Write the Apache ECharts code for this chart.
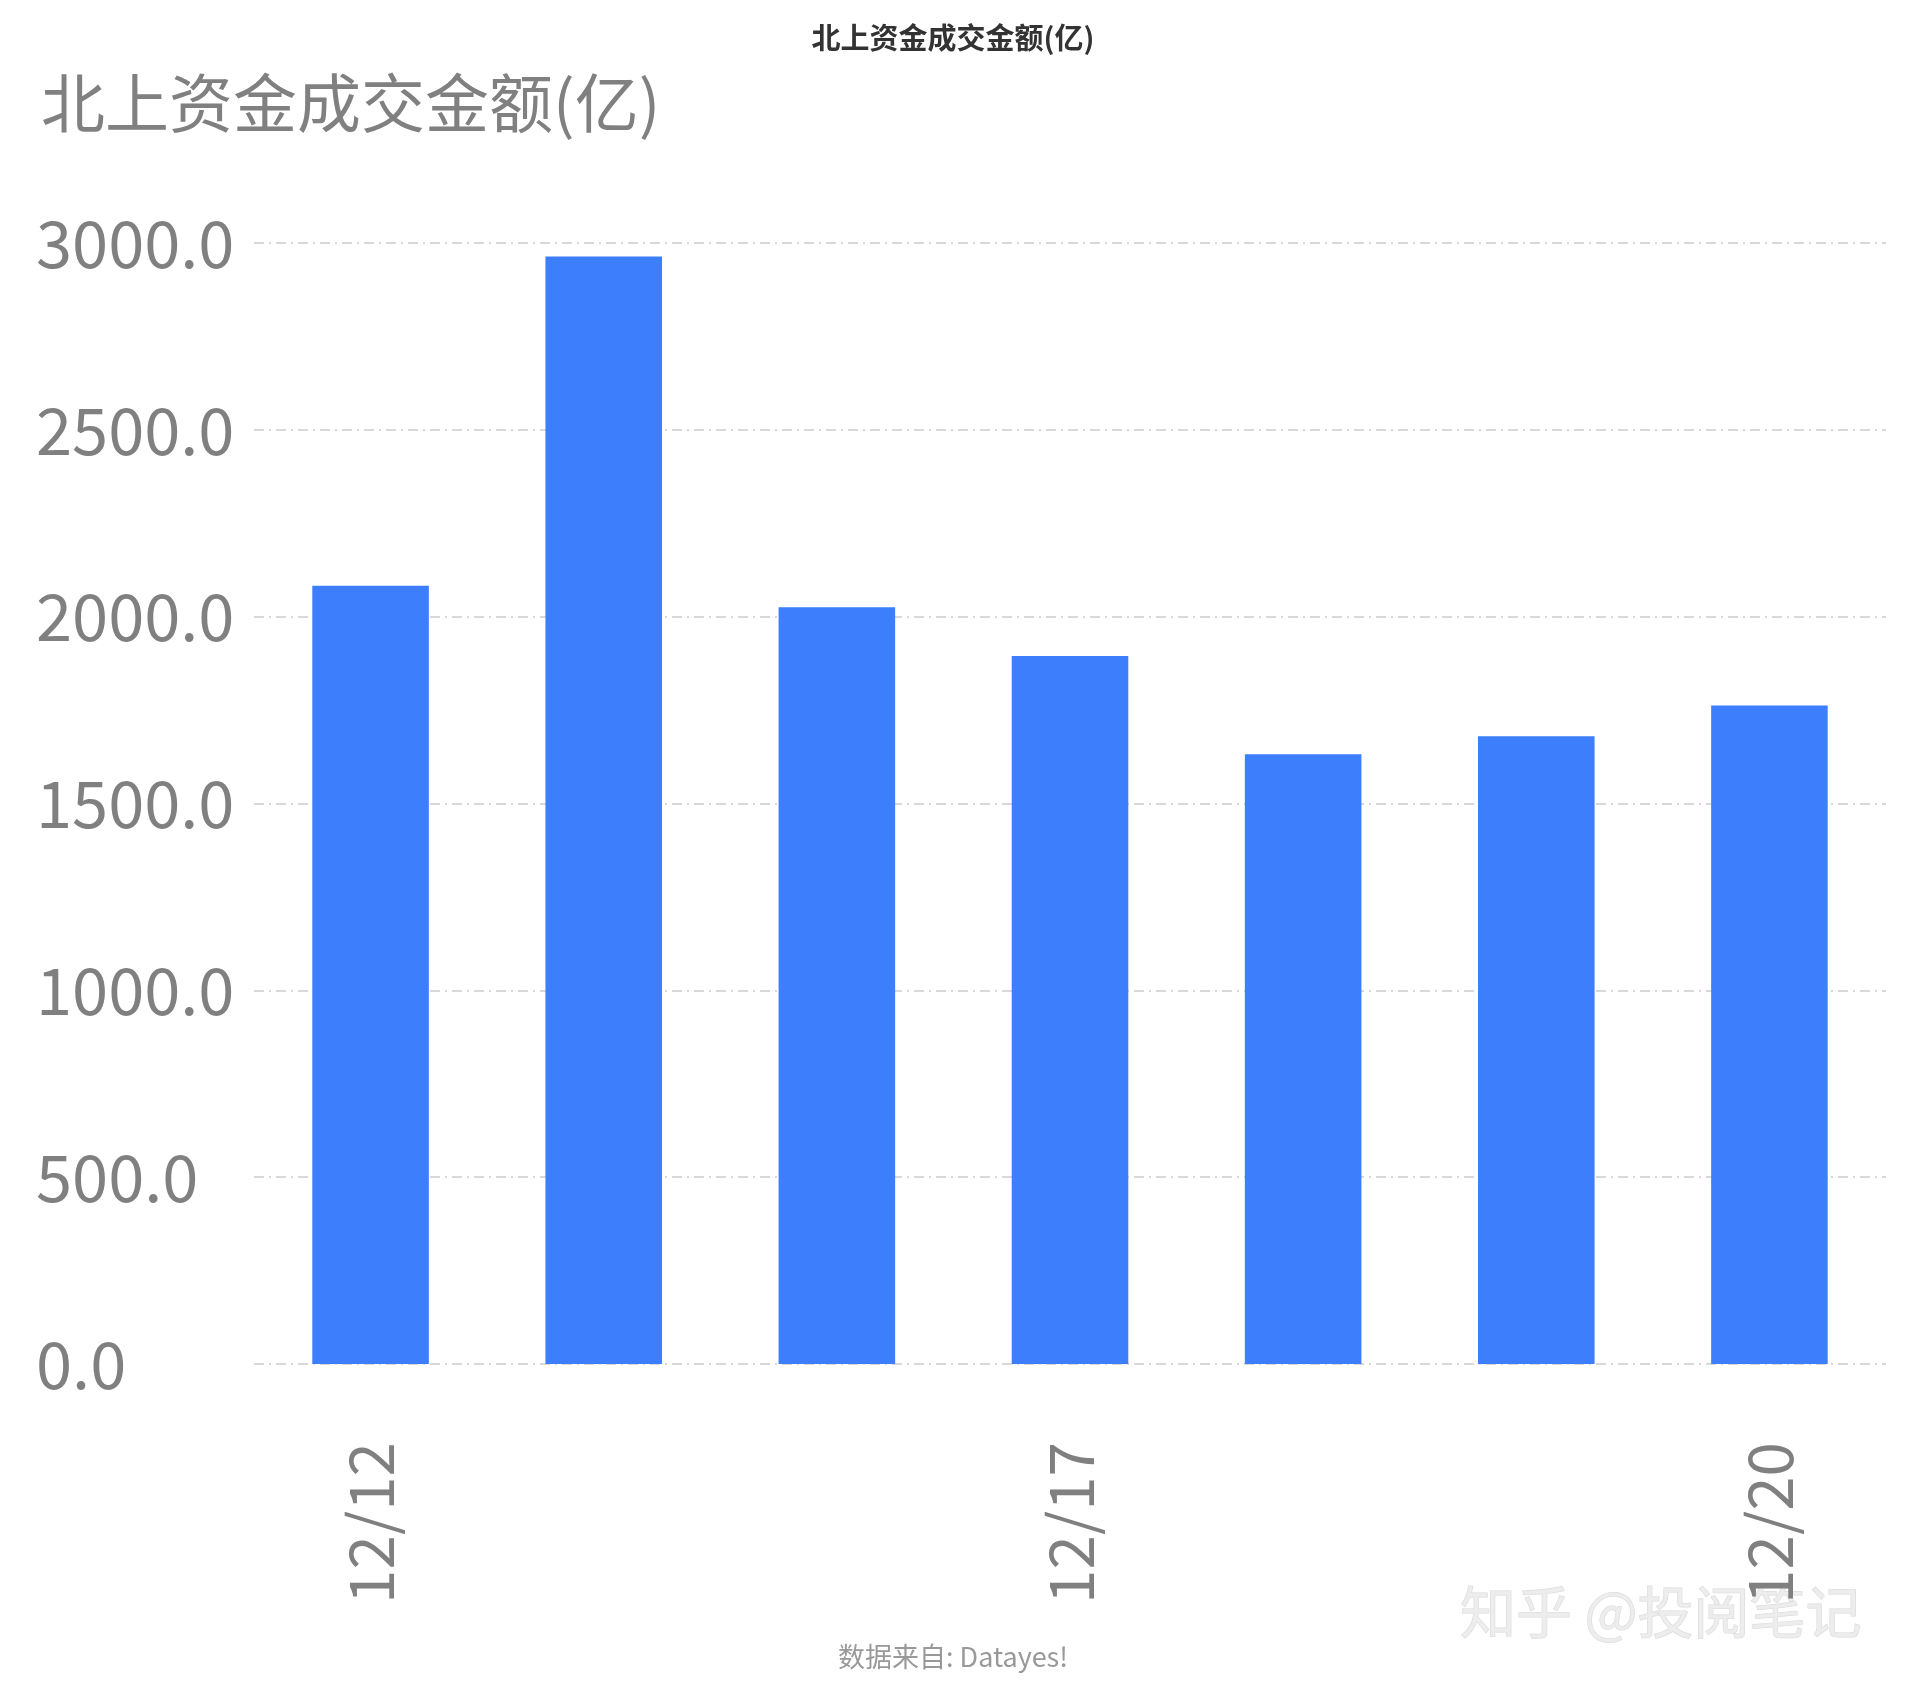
<!DOCTYPE html>
<html><head><meta charset="utf-8">
<script src="https://cdn.jsdelivr.net/npm/echarts@6/dist/echarts.min.js"></script>
<style>html,body{margin:0;padding:0;background:#fff}#c{width:1906px;height:1686px}</style>
</head><body><div id="c"></div>
<script>
const categories = ['12/12','12/13','12/16','12/17','12/18','12/19','12/20'];
const values = [2083, 2964, 2025, 1895, 1632, 1680, 1762];
const shownLabels = ['12/12','12/17','12/20'];
const chart = echarts.init(document.getElementById('c'));
const F = '"Noto Sans CJK SC","Noto Sans",sans-serif';
chart.setOption({
  animation:false,
  title:[
    {text:'北上资金成交金额(亿)',left:'center',top:18,textStyle:{fontFamily:F,fontSize:29,fontWeight:'bold',color:'#333'}},
    {text:'北上资金成交金额(亿)',left:36,top:66,textStyle:{fontFamily:F,fontSize:64,fontWeight:'normal',color:'#808080'}},
    {text:'数据来自: Datayes!',left:'center',top:1638,textStyle:{fontFamily:F,fontSize:27,fontWeight:'normal',color:'#999'}}
  ],
  graphic:[{type:'text',right:44,top:1583,style:{text:'知乎 @投阅笔记',font:'56px "Noto Sans CJK SC"',fill:'rgba(235,235,235,0.9)',stroke:'rgba(180,180,180,0.5)',lineWidth:1}}],
  grid:{left:254,right:20,top:243,bottom:322},
  xAxis:{type:'category',data:categories,axisLine:{show:false},axisTick:{show:false},
    axisLabel:{rotate:90,interval:0,margin:78,fontSize:62,color:'#808080',fontFamily:F,
      formatter:v=>shownLabels.includes(v)?v:''}},
  yAxis:{type:'value',min:0,max:3000,interval:500,
    axisLabel:{formatter:v=>v.toFixed(1),fontSize:65,color:'#808080',fontFamily:F,align:'left',margin:218},
    splitLine:{lineStyle:{type:[10,5,2,5],color:'#ccc',width:1.5}},axisLine:{show:false},axisTick:{show:false}},
  series:[{type:'bar',data:values,barWidth:'50%',itemStyle:{color:'#3d7efc'}}]
});
</script></body></html>
